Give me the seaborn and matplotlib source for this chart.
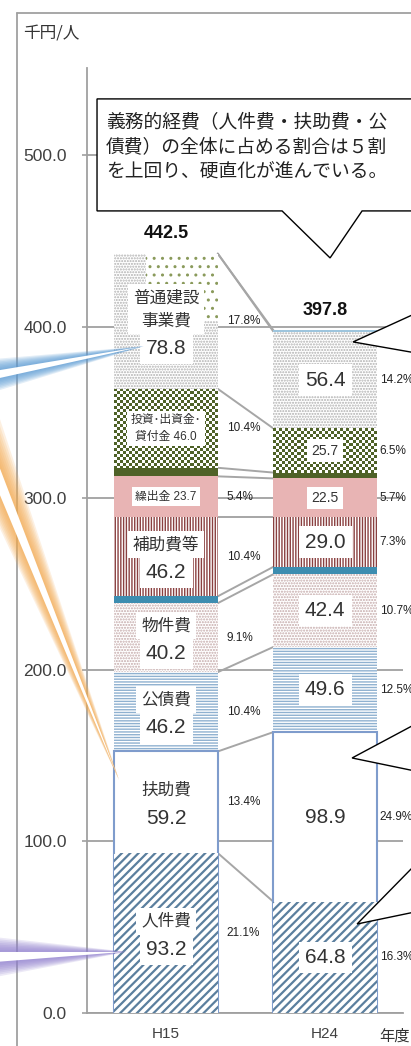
import numpy as np
import matplotlib
matplotlib.use("Agg")
import matplotlib.pyplot as plt
import seaborn as sns
from matplotlib import font_manager as fm
from matplotlib.colors import ListedColormap
from matplotlib.patches import Polygon, Rectangle
from matplotlib.lines import Line2D

# ---- data: 性質別歳出 (千円/人) ----
years = ["H15", "H24"]
items = ["人件費", "扶助費", "公債費", "物件費", "維持補修費", "補助費等",
         "繰出金", "積立金", "投資・出資金・貸付金", "普通建設事業費", "災害復旧事業費"]
h15_vals = [93.2, 59.2, 46.2, 40.2, 4.0, 46.2, 23.7, 5.0, 46.0, 78.8, 0.0]
h24_vals = [64.8, 98.9, 49.6, 42.4, 4.3, 29.0, 22.5, 3.4, 25.7, 56.4, 0.8]
h15_share = ["21.1%", "13.4%", "10.4%", "9.1%", "", "10.4%", "5.4%", "", "10.4%", "17.8%", ""]
h24_share = ["16.3%", "24.9%", "12.5%", "10.7%", "", "7.3%", "5.7%", "", "6.5%", "14.2%", ""]
totals = [442.5, 397.8]
# names written inside the H15 bar ("" = no label)
h15_names = ["人件費", "扶助費", "公債費", "物件費", "", "補助費等", "繰出金", "",
             "投資･出資金･\n貸付金", "普通建設\n事業費", ""]
small_labels = ["繰出金", "投資・出資金・貸付金"]
yticks = [0, 100, 200, 300, 400, 500]
note = "義務的経費（人件費・扶助費・公\n債費）の全体に占める割合は５割\nを上回り、硬直化が進んでいる。"

W, H = 411, 1046


def fig_xy(x, y):
    # pixel position (top-left origin) -> figure fraction
    return x / W, 1 - y / H


sns.set_style("white")
installed = {f.name for f in fm.fontManager.ttflist}
narrow = "Liberation Sans Narrow" in installed
NUM = "Liberation Sans Narrow" if narrow else "Liberation Sans"
k = 1.2 if narrow else 1.0   # sizes below are tuned for the regular face
JP = "Noto Sans CJK JP"
plt.rcParams["font.family"] = [NUM, JP, "DejaVu Sans"]
plt.rcParams["hatch.linewidth"] = 1.0

fig = plt.figure(figsize=(W / 100 + 0.001, H / 100 + 0.001), dpi=100)
ax = fig.add_axes([87 / W, (H - 1013) / H, (403 - 87) / W, (1013 - 68) / H])

styles = [
    dict(color="white", edgecolor="#5b7f9e", hatch="////", linewidth=0),        # 人件費
    dict(color="white", edgecolor="#7f9ccc", linewidth=1.5),                    # 扶助費
    dict(color="white", edgecolor="#8fb1d0", hatch="------", linewidth=0),      # 公債費
    dict(color="white", edgecolor="#c4a9a9", hatch="......", linewidth=0),      # 物件費
    dict(color="#3d8db0", linewidth=0),                                         # 維持補修費
    dict(color="white", edgecolor="#8a4040", hatch="||||||", linewidth=0),      # 補助費等
    dict(color="#e8b4b4", linewidth=0),                                         # 繰出金
    dict(color="#4f6228", linewidth=0),                                         # 積立金
    dict(color="white", linewidth=0),                                           # 投資 (checker)
    dict(color="white", edgecolor="#b0b0b0", hatch="......", linewidth=0),      # 普通建設
    dict(color="#9ec5dd", linewidth=0),                                         # 災害復旧
]

cum15 = np.cumsum(h15_vals)
cum24 = np.cumsum(h24_vals)
n = len(items)

# stacked bars: cumulative heights drawn from the top layer down
layers = {}
for i in reversed(range(n)):
    n0 = len(ax.patches)
    sns.barplot(x=years, y=[cum15[i], cum24[i]], width=0.65, saturation=1,
                ax=ax, zorder=2 + (n - i) * 0.1, **styles[i])
    layers[i] = ax.patches[n0:]
    if i == 0:
        for p in layers[i]:
            if hasattr(p, "set_hatch_linewidth"):
                p.set_hatch_linewidth(1.6)

ax.set_xlim(-0.497, 1.49)
ax.set_ylim(0, 550.7)

# checker pattern for 投資・出資金・貸付金
inv = items.index("投資・出資金・貸付金")
for p in layers[inv]:
    x0, w, h = p.get_x(), p.get_width(), p.get_height()
    (px0, py0), (px1, py1) = ax.transData.transform([(x0, 0), (x0 + w, h)])
    nx, ny = int(abs(px1 - px0) / 3.0), int(abs(py1 - py0) / 3.0)
    board = np.add.outer(np.arange(ny), np.arange(nx)) % 2
    im = ax.imshow(board, extent=(x0, x0 + w, 0, h), origin="lower",
                   cmap=ListedColormap(["white", "#4f6228"]),
                   interpolation="nearest", aspect="auto", zorder=p.get_zorder() + 0.01)
    im.set_clip_path(p)

# coarse dots patch at the top right of the H15 bar
top15 = layers[n - 2][0]
ax.add_patch(Rectangle((top15.get_x() + 0.31 * top15.get_width(), cum15[-1] - 39),
                       0.69 * top15.get_width(), 39, facecolor="white", edgecolor="#8a9a5b",
                       hatch="..", linewidth=0, zorder=4))

ax.set_xlim(-0.497, 1.49)
ax.set_ylim(0, 550.7)

# series lines between the bars
for i in range(n):
    a, b = layers[i]
    ax.plot([a.get_x() + a.get_width(), b.get_x()], [cum15[i], cum24[i]],
            color="#a6a6a6", lw=1.4, zorder=1.5)

box = dict(boxstyle="square,pad=0.3", facecolor="white", edgecolor="none")
for i in range(n):
    a, b = layers[i]
    xa = a.get_x() + a.get_width() / 2
    xb = b.get_x() + b.get_width() / 2
    mid15 = cum15[i] - h15_vals[i] / 2
    mid24 = cum24[i] - h24_vals[i] / 2
    if h15_share[i]:
        ax.annotate(h15_share[i], (a.get_x() + a.get_width(), mid15), xytext=(6.5, 0),
                    textcoords="offset points", ha="left", va="center",
                    fontsize=8.5 * k, color="#222222", zorder=9)
    if h24_share[i]:
        ax.annotate(h24_share[i], (b.get_x() + b.get_width(), mid24), xytext=(2, 0),
                    textcoords="offset points", ha="left", va="center",
                    fontsize=8.5 * k, color="#222222", zorder=9)
    name = h15_names[i]
    if not name:
        continue
    if items[i] in small_labels:
        ax.annotate(f"{name} {h15_vals[i]:.1f}", (xa, mid15), ha="center", va="center",
                    fontsize=8.5, linespacing=1.5, color="#333333", bbox=box, zorder=10)
        ax.annotate(f"{h24_vals[i]:.1f}", (xb, mid24), ha="center", va="center",
                    fontsize=10 * k, color="#333333", bbox=box, zorder=10)
    else:
        nl = name.count("\n")
        ax.annotate(name, (xa, mid15), xytext=(0, 12 * 0.72), textcoords="offset points",
                    ha="center", va="center", fontsize=12, family=[JP, "DejaVu Sans"],
                    linespacing=1.45, color="#333333", bbox=box, zorder=10)
        ax.annotate(f"{h15_vals[i]:.1f}", (xa, mid15), xytext=(0, -(16 + 11 * nl) * 0.72),
                    textcoords="offset points", ha="center", va="center",
                    fontsize=15 * k, color="#333333", bbox=box, zorder=10)
        ax.annotate(f"{h24_vals[i]:.1f}", (xb, mid24), ha="center", va="center",
                    fontsize=15 * k, color="#333333", bbox=box, zorder=10)

for j, t in enumerate(totals):
    p = layers[n - 1][j]
    ax.annotate(f"{t:.1f}", (p.get_x() + p.get_width() / 2, t), xytext=(0, 14.4),
                textcoords="offset points", ha="center", va="center",
                fontsize=13 * k, fontweight="bold", color="#111111", zorder=10)

# axes styling
ax.set_yticks(yticks)
ax.set_yticklabels([f"{t:.1f}" for t in yticks])
ax.tick_params(axis="y", length=3.6, width=1.2, color="#a0a0a0", pad=11,
               labelsize=12.5 * k, labelcolor="#404040", left=True)
ax.tick_params(axis="x", length=0, pad=10, labelsize=11 * k, labelcolor="#404040")
ax.yaxis.grid(True, color="#a0a0a0", lw=1.3)
ax.set_axisbelow(True)
for s in ["top", "right"]:
    ax.spines[s].set_visible(False)
for s in ["left", "bottom"]:
    ax.spines[s].set_color("#a0a0a0")
    ax.spines[s].set_linewidth(1.3)
ax.set_xlabel("")
ax.set_ylabel("")

# outer frame (cut by the image edge)
fig.add_artist(Line2D([17 / W, 1], [1 - 13 / H] * 2, transform=fig.transFigure,
                      color="#a0a0a0", lw=1.3))
fig.add_artist(Line2D([17 / W] * 2, [0, 1 - 13 / H], transform=fig.transFigure,
                      color="#a0a0a0", lw=1.3))

fig.text(*fig_xy(23, 34), "千円/人", ha="left", va="center", fontsize=12,
         family=[JP, "DejaVu Sans"], color="#333333")
fig.text(*fig_xy(379, 1036), "年度", ha="left", va="center", fontsize=11,
         family=[JP, "DejaVu Sans"], color="#333333")

# speech bubble at the top
bubble = [(97, 99), (430, 99), (430, 211), (362, 211), (330, 258), (282, 211), (97, 211)]
fig.add_artist(Polygon([fig_xy(*p) for p in bubble], closed=True, transform=fig.transFigure,
                       facecolor="white", edgecolor="black", lw=1.0, zorder=5))
fig.text(*fig_xy(106, 147), note, ha="left", va="center", fontsize=13.5,
         family=[JP, "DejaVu Sans"], linespacing=1.25, color="#222222", zorder=6)


# tails of callouts standing outside the right edge
def tail(tip, up, low):
    def ext(p):
        s = (p[1] - tip[1]) / (p[0] - tip[0])
        return (430, tip[1] + s * (430 - tip[0]))
    pts = [ext(up), tip, ext(low)]
    fig.add_artist(Polygon([fig_xy(*p) for p in pts], closed=True, transform=fig.transFigure,
                           facecolor="white", edgecolor="black", lw=1.0, zorder=5))


tail((353, 342), (410, 316), (410, 352))
tail((352, 758), (410, 727), (410, 770))
tail((357, 924), (410, 870), (410, 913))


# glowing callout tails coming from the left edge
def wedge(start, tip, hw):
    s = np.array(start, float)
    t = np.array(tip, float)
    d = (t - s) / np.hypot(*(t - s))
    nv = np.array([-d[1], d[0]])
    return [fig_xy(*p) for p in (s + nv * hw, t + d * hw * 0.25, s - nv * hw)]


glows = [((-5, 375), (140, 347), "#5b9bd5", 16),
         ((-25, 420), (117, 775), "#f4a950", 24),
         ((-5, 957), (122, 952), "#8f7fcf", 20)]
for s, t, c, hw in glows:
    for frac in np.linspace(1.0, 0.35, 8):
        fig.add_artist(Polygon(wedge(s, t, hw * frac), closed=True, transform=fig.transFigure,
                               facecolor=c, edgecolor="none", alpha=0.17, zorder=4))
    fig.add_artist(Polygon(wedge(s, t, hw * 0.25), closed=True, transform=fig.transFigure,
                           facecolor="white", edgecolor="none", zorder=4))

fig.savefig("out.png", dpi=100)
